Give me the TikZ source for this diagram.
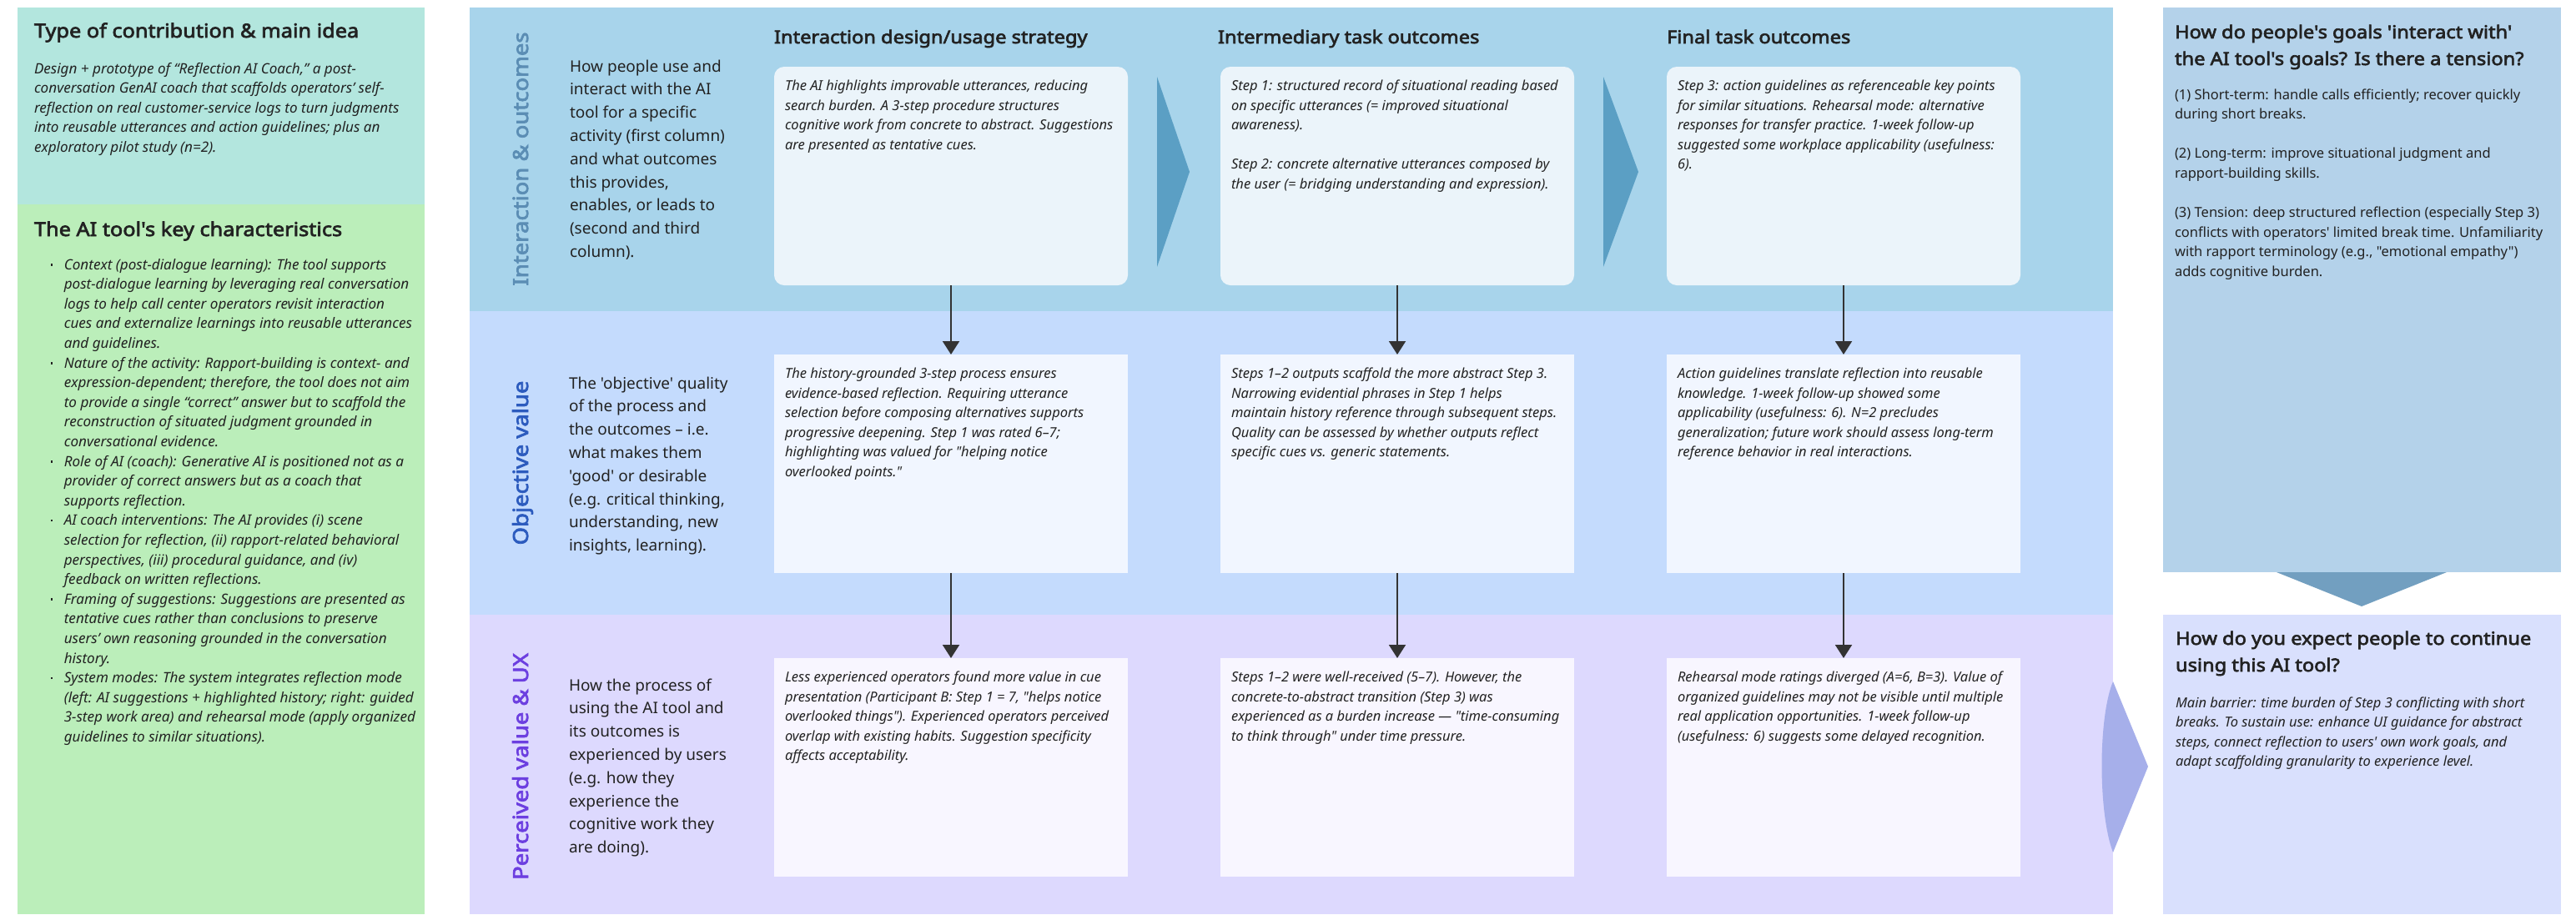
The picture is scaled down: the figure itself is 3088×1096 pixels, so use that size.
\documentclass[tikz,border=0pt]{standalone}
\usepackage{fontspec}
\setmainfont{Noto Sans}[Ligatures=TeXOff]
\newfontfamily\hbf{Noto Sans}[Ligatures=TeXOff, FakeBold=3, FakeStretch=1.1]
\usetikzlibrary{arrows.meta}
\definecolor{tealbg}{HTML}{B3E6DE}
\definecolor{greenbg}{HTML}{BBEEBA}
\definecolor{bandA}{HTML}{A8D4EB}
\definecolor{bandB}{HTML}{C4DBFD}
\definecolor{bandC}{HTML}{DDD9FE}
\definecolor{cellA}{HTML}{EBF4FA}
\definecolor{cellB}{HTML}{F1F6FF}
\definecolor{cellC}{HTML}{F8F6FF}
\definecolor{chev}{HTML}{5B9FC4}
\definecolor{rtop}{HTML}{B4D2EA}
\definecolor{rbot}{HTML}{D9E0FD}
\definecolor{dchev}{HTML}{729FC0}
\definecolor{rarrow}{HTML}{A6AFEA}
\definecolor{ink}{HTML}{222222}
\definecolor{connc}{HTML}{333333}
\definecolor{labA}{HTML}{5B8DB4}
\definecolor{labB}{HTML}{2C5BBE}
\definecolor{labC}{HTML}{6C3FE0}
\newcommand\strt{\rule{0pt}{1em}}
\newcommand\bul{\makebox[16pt][l]{\raisebox{4.5pt}{\rule{2.4pt}{2.4pt}}}}
\newcommand\ind{\hspace*{16pt}}
\begin{document}
\begin{tikzpicture}[x=1pt,y=-1pt,
  every node/.style={inner sep=0pt, outer sep=0pt},
  pane/.style={rectangle, anchor=north west, draw=none},
  txt/.style={anchor=north west, align=left, text=ink},
  hd/.style={txt, font=\hbf\fontsize{21.5}{32}\selectfont},
  lhd/.style={txt, font=\hbf\fontsize{23}{32}\selectfont},
  bodyi/.style={txt, font=\fontsize{16.5}{23.6}\selectfont\itshape},
  lbodyi/.style={txt, font=\fontsize{17.1}{23.6}\selectfont\itshape},
  body/.style={txt, font=\fontsize{16.5}{23.6}\selectfont},
  desc/.style={txt, font=\fontsize{19}{27.8}\selectfont},
  lab/.style={font=\hbf\fontsize{25}{30}\selectfont, rotate=90, anchor=base},
  cell/.style={txt, font=\fontsize{16.5}{23.5}\selectfont\itshape},
  boxA/.style={pane, fill=cellA, rounded corners=12pt, minimum width=424pt, minimum height=262pt},
  boxB/.style={pane, fill=cellB, minimum width=424pt, minimum height=262pt},
  boxC/.style={pane, fill=cellC, minimum width=424pt, minimum height=262pt},
  conn/.style={draw=connc, line width=2pt, -{Triangle[width=20pt,length=16pt]}},
]
\useasboundingbox (0,0) rectangle (3088,1096);
\fill[white] (0,0) rectangle (3088,1096);

% ---------- left column ----------
\node[pane, fill=tealbg, minimum width=488pt, minimum height=236pt] (contrib) at (21,9) {};
\node[pane, fill=greenbg, minimum width=488pt, minimum height=851pt] (charac) at (21,245) {};
\node[lhd] (contribH) at (41,22) {\strt Type of contribution \& main idea};
\node[lbodyi] (contribT) at (41,70.9) {\strt Design + prototype of “Reflection AI Coach,” a post-\\
conversation GenAI coach that scaffolds operators’ self-\\
reflection on real customer-service logs to turn judgments\\
into reusable utterances and action guidelines; plus an\\
exploratory pilot study (n=2).};
\node[lhd] (characH) at (41,260) {\strt The AI tool's key characteristics};
\node[lbodyi] (characT) at (60.8,305.9) {\strt\bul Context (post-dialogue learning): The tool supports\\
\ind post-dialogue learning by leveraging real conversation\\
\ind logs to help call center operators revisit interaction\\
\ind cues and externalize learnings into reusable utterances\\
\ind and guidelines.\\
\bul Nature of the activity: Rapport-building is context- and\\
\ind expression-dependent; therefore, the tool does not aim\\
\ind to provide a single “correct” answer but to scaffold the\\
\ind reconstruction of situated judgment grounded in\\
\ind conversational evidence.\\
\bul Role of AI (coach): Generative AI is positioned not as a\\
\ind provider of correct answers but as a coach that\\
\ind supports reflection.\\
\bul AI coach interventions: The AI provides (i) scene\\
\ind selection for reflection, (ii) rapport-related behavioral\\
\ind perspectives, (iii) procedural guidance, and (iv)\\
\ind feedback on written reflections.\\
\bul Framing of suggestions: Suggestions are presented as\\
\ind tentative cues rather than conclusions to preserve\\
\ind users’ own reasoning grounded in the conversation\\
\ind history.\\
\bul System modes: The system integrates reflection mode\\
\ind (left: AI suggestions + highlighted history; right: guided\\
\ind 3-step work area) and rehearsal mode (apply organized\\
\ind guidelines to similar situations).};

% ---------- middle bands ----------
\node[pane, fill=bandA, minimum width=1970pt, minimum height=364pt] (bandI) at (563,9) {};
\node[pane, fill=bandB, minimum width=1970pt, minimum height=364pt] (bandO) at (563,373) {};
\node[pane, fill=bandC, minimum width=1970pt, minimum height=359pt] (bandP) at (563,737) {};

\node[lab, text=labA] (labI) at (633,190.5) {Interaction \& outcomes};
\node[lab, text=labB] (labO) at (633,555) {Objective value};
\node[lab, text=labC] (labP) at (633,919) {Perceived value \& UX};

\node[desc] (descI) at (683,67) {\strt How people use and\\ interact with the AI\\ tool for a specific\\ activity (first column)\\ and what outcomes\\ this provides,\\ enables, or leads to\\ (second and third\\ column).};
\node[desc] (descO) at (682,447) {\strt The 'objective' quality\\ of the process and\\ the outcomes – i.e.\\ what makes them\\ 'good' or desirable\\ (e.g. critical thinking,\\ understanding, new\\ insights, learning).};
\node[desc] (descP) at (682,809) {\strt How the process of\\ using the AI tool and\\ its outcomes is\\ experienced by users\\ (e.g. how they\\ experience the\\ cognitive work they\\ are doing).};

\node[hd] (hdA) at (928,30.5) {\strt Interaction design/usage strategy};
\node[hd] (hdB) at (1460,30.5) {\strt Intermediary task outcomes};
\node[hd] (hdC) at (1998,30.5) {\strt Final task outcomes};

% chevrons between first-row boxes
\fill[chev] (1387,92) -- (1387,320) -- (1426,206) -- cycle;
\fill[chev] (1922,92) -- (1922,320) -- (1964,206) -- cycle;

% boxes
\node[boxA] (A1) at (928,80) {};
\node[boxA] (B1) at (1463,80) {};
\node[boxA] (C1) at (1998,80) {};
\node[boxB] (A2) at (928,425) {};
\node[boxB] (B2) at (1463,425) {};
\node[boxB] (C2) at (1998,425) {};
\node[boxC] (A3) at (928,789) {};
\node[boxC] (B3) at (1463,789) {};
\node[boxC] (C3) at (1998,789) {};

\node[cell] (tA1) at (941,92) {\strt The AI highlights improvable utterances, reducing\\
search burden. A 3-step procedure structures\\
cognitive work from concrete to abstract. Suggestions\\
are presented as tentative cues.};
\node[cell] (tB1) at (1476,92) {\strt Step 1: structured record of situational reading based\\
on specific utterances (= improved situational\\
awareness).\\[23.5pt]
Step 2: concrete alternative utterances composed by\\
the user (= bridging understanding and expression).};
\node[cell] (tC1) at (2011,92) {\strt Step 3: action guidelines as referenceable key points\\
for similar situations. Rehearsal mode: alternative\\
responses for transfer practice. 1-week follow-up\\
suggested some workplace applicability (usefulness:\\
6).};

\node[cell] (tA2) at (941,437) {\strt The history-grounded 3-step process ensures\\
evidence-based reflection. Requiring utterance\\
selection before composing alternatives supports\\
progressive deepening. Step 1 was rated 6–7;\\
highlighting was valued for "helping notice\\
overlooked points."};
\node[cell] (tB2) at (1476,437) {\strt Steps 1–2 outputs scaffold the more abstract Step 3.\\
Narrowing evidential phrases in Step 1 helps\\
maintain history reference through subsequent steps.\\
Quality can be assessed by whether outputs reflect\\
specific cues vs. generic statements.};
\node[cell] (tC2) at (2011,437) {\strt Action guidelines translate reflection into reusable\\
knowledge. 1-week follow-up showed some\\
applicability (usefulness: 6). N=2 precludes\\
generalization; future work should assess long-term\\
reference behavior in real interactions.};

\node[cell] (tA3) at (941,801) {\strt Less experienced operators found more value in cue\\
presentation (Participant B: Step 1 = 7, "helps notice\\
overlooked things"). Experienced operators perceived\\
overlap with existing habits. Suggestion specificity\\
affects acceptability.};
\node[cell] (tB3) at (1476,801) {\strt Steps 1–2 were well-received (5–7). However, the\\
concrete-to-abstract transition (Step 3) was\\
experienced as a burden increase — "time-consuming\\
to think through" under time pressure.};
\node[cell] (tC3) at (2011,801) {\strt Rehearsal mode ratings diverged (A=6, B=3). Value of\\
organized guidelines may not be visible until multiple\\
real application opportunities. 1-week follow-up\\
(usefulness: 6) suggests some delayed recognition.};

% connectors
\draw[conn] (A1.south) -- (A2.north);
\draw[conn] (B1.south) -- (B2.north);
\draw[conn] (C1.south) -- (C2.north);
\draw[conn] (A2.south) -- (A3.north);
\draw[conn] (B2.south) -- (B3.north);
\draw[conn] (C2.south) -- (C3.north);

% ---------- right column ----------
\node[pane, fill=rtop, minimum width=477pt, minimum height=677pt] (goals) at (2593,9) {};
\node[pane, fill=rbot, minimum width=477pt, minimum height=359pt] (cont) at (2593,737) {};
\fill[dchev] (2729,686) -- (2933,686) -- (2831,727) -- cycle;
\fill[rarrow] (2533,817) .. controls (2515,860) and (2515,975) .. (2533,1022) -- (2575,919) -- cycle;

\node[hd] (goalsH) at (2607,24.5) {\strt How do people's goals 'interact with'\\ the AI tool's goals? Is there a tension?};
\node[body] (goalsT) at (2607,102.5) {\strt (1) Short-term: handle calls efficiently; recover quickly\\
during short breaks.\\[23.6pt]
(2) Long-term: improve situational judgment and\\
rapport-building skills.\\[23.6pt]
(3) Tension: deep structured reflection (especially Step 3)\\
conflicts with operators' limited break time. Unfamiliarity\\
with rapport terminology (e.g., "emotional empathy")\\
adds cognitive burden.};
\node[hd] (contH) at (2608,751.5) {\strt How do you expect people to continue\\ using this AI tool?};
\node[bodyi] (contT) at (2608,831.5) {\strt Main barrier: time burden of Step 3 conflicting with short\\
breaks. To sustain use: enhance UI guidance for abstract\\
steps, connect reflection to users' own work goals, and\\
adapt scaffolding granularity to experience level.};
\end{tikzpicture}
\end{document}
